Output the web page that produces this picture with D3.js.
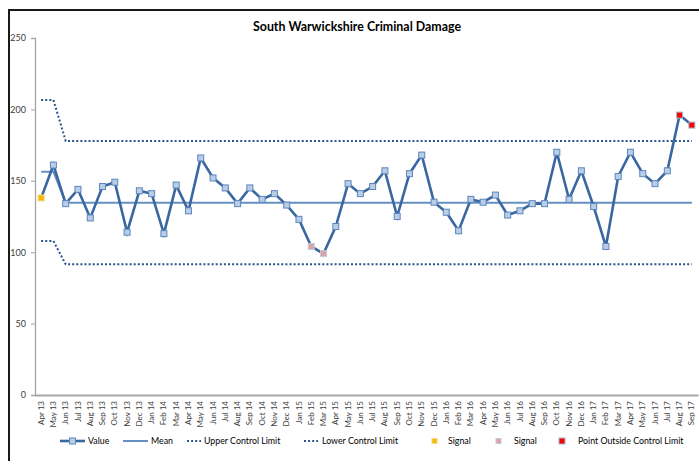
<!DOCTYPE html>
<html>
<head>
<meta charset="utf-8">
<script src="https://cdn.jsdelivr.net/npm/d3@7"></script>
<style>
  html, body { margin: 0; padding: 0; background: #fff; }
  svg { display: block; }
  text { font-family: Lato, "Open Sans", sans-serif; }
</style>
</head>
<body>
<svg id="chart" width="699" height="461"></svg>
<script>
// Monthly recorded criminal damage, South Warwickshire
const months = [
  "Apr 13","May 13","Jun 13","Jul 13","Aug 13","Sep 13","Oct 13","Nov 13","Dec 13",
  "Jan 14","Feb 14","Mar 14","Apr 14","May 14","Jun 14","Jul 14","Aug 14","Sep 14","Oct 14","Nov 14","Dec 14",
  "Jan 15","Feb 15","Mar 15","Apr 15","May 15","Jun 15","Jul 15","Aug 15","Sep 15","Oct 15","Nov 15","Dec 15",
  "Jan 16","Feb 16","Mar 16","Apr 16","May 16","Jun 16","Jul 16","Aug 16","Sep 16","Oct 16","Nov 16","Dec 16",
  "Jan 17","Feb 17","Mar 17","Apr 17","May 17","Jun 17","Jul 17","Aug 17","Sep 17"
];
const values = [
  138,161,134,144,124,146,149,114,143,
  141,113,147,129,166,152,145,134,145,137,141,133,
  123,104,99,118,148,141,146,157,125,155,168,135,
  128,115,137,135,140,126,129,134,134,170,137,157,
  132,104,153,170,155,148,157,196,189
];

// Control chart phases: index of first month, mean and limits for each phase
const phaseStart = [0, 2];
const meanLevels = [156.4, 134.7];
const uclLevels = [206.6, 177.9];
const lclLevels = [107.8, 91.5];

// Highlighted points
const signalA = ["Apr 13"];
const signalB = ["Feb 15", "Mar 15"];
const outside = ["Aug 17", "Sep 17"];

const yTicks = [0, 50, 100, 150, 200, 250];

// Step series: each month takes the level of the phase it belongs to
function phaseSeries(levels) {
  return months.map((m, i) => {
    let p = 0;
    phaseStart.forEach((s, k) => { if (i >= s) p = k; });
    return { month: m, v: levels[p] };
  });
}

const svg = d3.select("#chart");
const colors = {
  value: "#3a67a0",
  markerFill: "#b9cde5",
  markerStroke: "#5b87c0",
  mean: "#6690c2",
  limit: "#2a5490",
  axis: "#a6a6a6",
  text: "#404040"
};

const x = d3.scaleBand().domain(months).range([35, 698]).padding(0);
const y = d3.scaleLinear().domain([0, 250]).range([395, 38]);
const cx = m => x(m) + x.bandwidth() / 2;

// Outer frame
svg.append("path")
  .attr("d", "M9,461 V10 H699")
  .attr("fill", "none")
  .attr("stroke", "#1a1a1a")
  .attr("stroke-width", 2);

// Title
svg.append("text")
  .attr("x", 357).attr("y", 31)
  .attr("text-anchor", "middle")
  .attr("font-size", 12.4).attr("font-weight", "bold")
  .attr("fill", "#000")
  .text("South Warwickshire Criminal Damage");

// Y axis
const yAxis = svg.append("g")
  .attr("transform", "translate(35,0)")
  .call(d3.axisLeft(y).tickValues(yTicks).tickSize(4).tickPadding(5));
yAxis.select(".domain").attr("stroke", colors.axis).attr("stroke-width", 1.3);
yAxis.selectAll(".tick line").attr("stroke", colors.axis);
yAxis.selectAll(".tick text").attr("font-size", 9).attr("fill", colors.text)
  .attr("font-family", "Lato, sans-serif");

// X axis
const xAxis = svg.append("g")
  .attr("transform", "translate(0,395)")
  .call(d3.axisBottom(x).tickSize(0).tickPadding(6));
xAxis.select(".domain").attr("stroke", colors.axis).attr("stroke-width", 2);
xAxis.selectAll(".tick text")
  .attr("font-size", 8).attr("fill", colors.text)
  .attr("font-family", "Lato, sans-serif")
  .attr("text-anchor", "end")
  .attr("transform", "rotate(-90)")
  .attr("x", -6).attr("y", 0).attr("dy", "0.32em");

const line = d3.line().x(d => cx(d.month)).y(d => y(d.v));

// Control limits
[uclLevels, lclLevels].forEach(levels => {
  svg.append("path")
    .datum(phaseSeries(levels))
    .attr("d", line)
    .attr("fill", "none")
    .attr("stroke", colors.limit)
    .attr("stroke-width", 2)
    .attr("stroke-dasharray", "2,2.1");
});

// Mean
svg.append("path")
  .datum(phaseSeries(meanLevels))
  .attr("d", line)
  .attr("fill", "none")
  .attr("stroke", colors.mean)
  .attr("stroke-width", 2);

// Values
const pts = months.map((m, i) => ({ month: m, v: values[i] }));
svg.append("path")
  .datum(pts)
  .attr("d", line)
  .attr("fill", "none")
  .attr("stroke", colors.value)
  .attr("stroke-width", 2.6)
  .attr("stroke-linejoin", "miter");

function markerFill(m) {
  if (signalA.includes(m)) return "#f5b800";
  if (signalB.includes(m)) return "#d9a3a8";
  if (outside.includes(m)) return "#ff0000";
  return colors.markerFill;
}
function markerStroke(m) {
  if (signalA.includes(m)) return "#f3d98a";
  if (signalB.includes(m)) return "#c5c9dc";
  if (outside.includes(m)) return "#9fb6d6";
  return colors.markerStroke;
}
svg.append("g").selectAll("rect")
  .data(pts)
  .join("rect")
  .attr("x", d => cx(d.month) - 3)
  .attr("y", d => y(d.v) - 3)
  .attr("width", 6).attr("height", 6)
  .attr("fill", d => markerFill(d.month))
  .attr("stroke", d => markerStroke(d.month))
  .attr("stroke-width", 1);

// Legend
const lg = svg.append("g").attr("font-size", 8.8).attr("fill", "#000");
const ly = 441;
function legendText(xp, t) {
  lg.append("text").attr("x", xp).attr("y", ly).attr("dy", "0.35em").text(t);
}
lg.append("line").attr("x1", 60).attr("x2", 85).attr("y1", ly).attr("y2", ly)
  .attr("stroke", colors.value).attr("stroke-width", 2.6);
lg.append("rect").attr("x", 69.5).attr("y", ly - 3).attr("width", 6).attr("height", 6)
  .attr("fill", colors.markerFill).attr("stroke", colors.markerStroke);
legendText(88, "Value");
lg.append("line").attr("x1", 123).attr("x2", 148).attr("y1", ly).attr("y2", ly)
  .attr("stroke", colors.mean).attr("stroke-width", 2);
legendText(151, "Mean");
[[187, 204, "Upper Control Limit"], [304, 322, "Lower Control Limit"]].forEach(([a, t, s]) => {
  lg.append("line").attr("x1", a).attr("x2", a + 14).attr("y1", ly).attr("y2", ly)
    .attr("stroke", colors.limit).attr("stroke-width", 2).attr("stroke-dasharray", "2,2.1");
  legendText(t, s);
});
lg.append("rect").attr("x", 432).attr("y", ly - 2.5).attr("width", 5).attr("height", 5)
  .attr("fill", "#f5b800").attr("stroke", "#f3d98a");
legendText(448, "Signal");
lg.append("rect").attr("x", 496).attr("y", ly - 2.5).attr("width", 5).attr("height", 5)
  .attr("fill", "#d9a3a8").attr("stroke", "#c5c9dc");
legendText(514, "Signal");
lg.append("rect").attr("x", 559).attr("y", ly - 3).attr("width", 6).attr("height", 6)
  .attr("fill", "#ff0000").attr("stroke", "#9fb6d6");
legendText(578, "Point Outside Control Limit");
</script>
</body>
</html>
